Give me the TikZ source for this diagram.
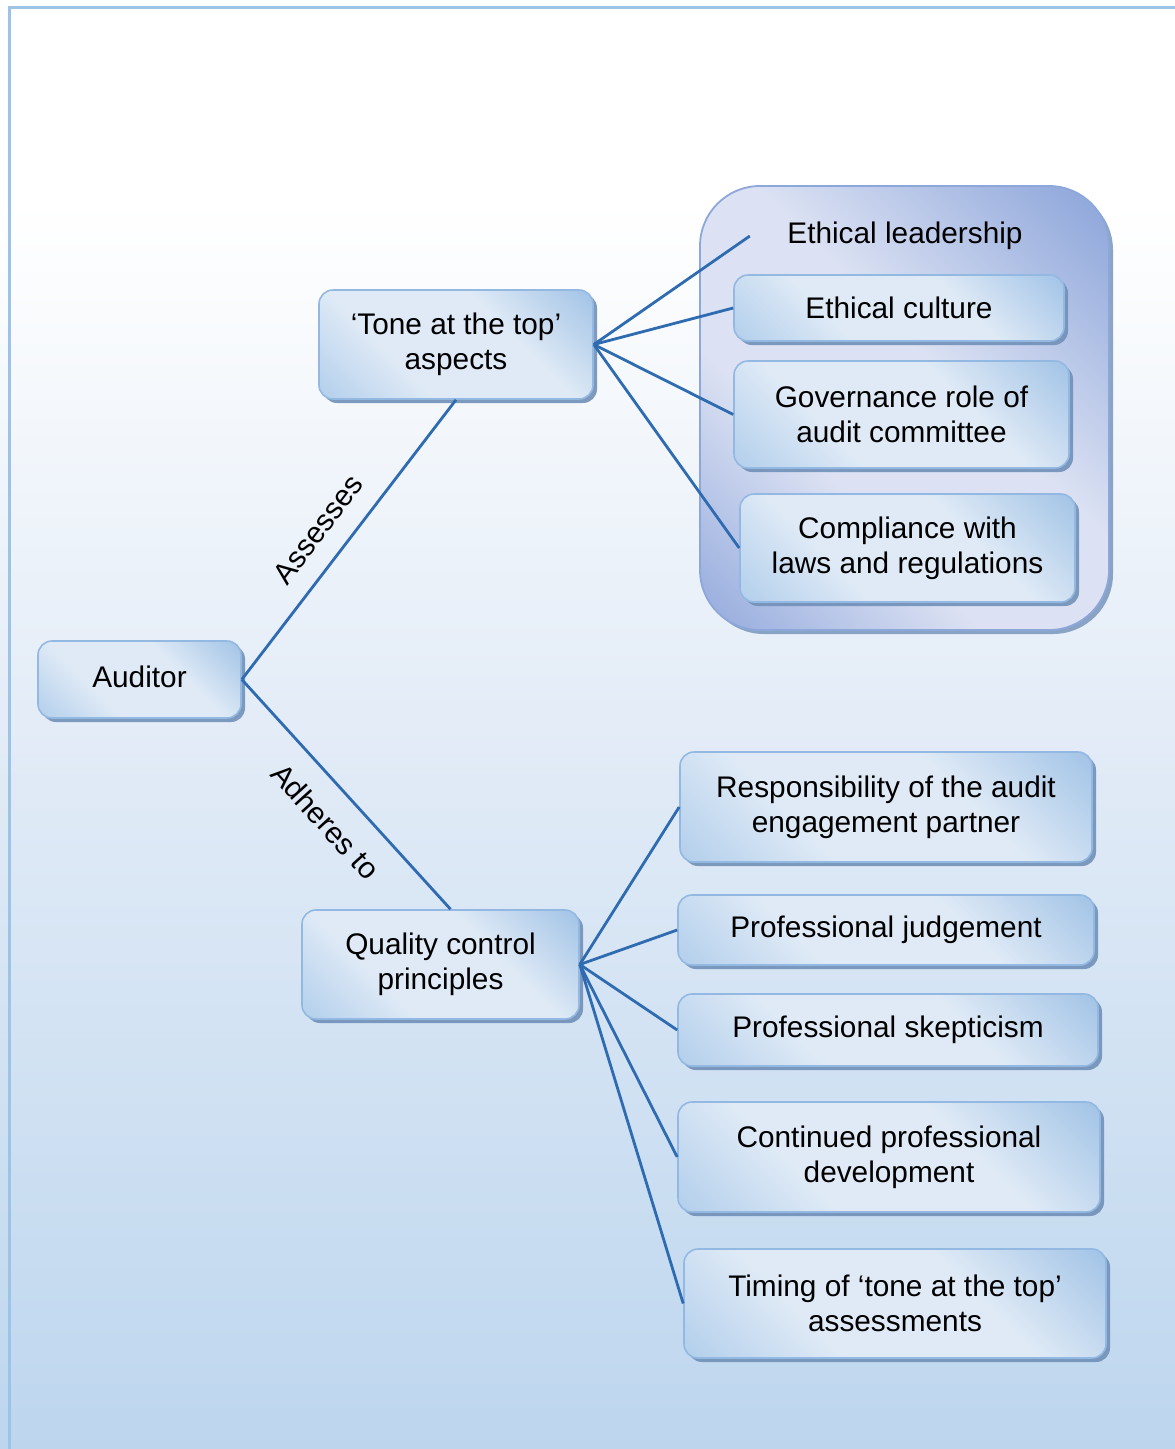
\documentclass[tikz,border=0pt]{standalone}
\usepackage{fontspec}
\setmainfont{Liberation Sans}
\usetikzlibrary{shadows}

% palette
\definecolor{bgTop}{HTML}{FFFFFF}
\definecolor{bgMid}{HTML}{E3ECF7}
\definecolor{bgBot}{HTML}{BDD6EE}
\definecolor{frameCol}{HTML}{9DC3E6}
\definecolor{boxEdgeA}{HTML}{B3CFEC}
\definecolor{boxEdgeB}{HTML}{A0C2E6}
\definecolor{boxMid}{HTML}{DFEAF6}
\definecolor{boxLine}{HTML}{93B9E2}
\definecolor{shadowCol}{HTML}{7190B8}
\definecolor{conEdgeA}{HTML}{98ADDE}
\definecolor{conEdgeB}{HTML}{93AADC}
\definecolor{conMid}{HTML}{DCE2F3}
\definecolor{conLine}{HTML}{8EA7DA}
\definecolor{linkCol}{HTML}{2E6BB0}

% axis shadings (a path shaded at 45 degrees spans about 15bp..85bp of the axis)
\pgfdeclareverticalshading{bgshade}{100bp}{color(0bp)=(bgBot); color(25bp)=(bgBot); color(50bp)=(bgMid); color(68bp)=(bgTop); color(100bp)=(bgTop)}
\pgfdeclarehorizontalshading{boxshade}{100bp}{color(0bp)=(boxEdgeA); color(15bp)=(boxEdgeA); color(36bp)=(boxMid); color(62bp)=(boxMid); color(86bp)=(boxEdgeB); color(100bp)=(boxEdgeB)}
\pgfdeclarehorizontalshading{conshade}{100bp}{color(0bp)=(conEdgeA); color(16bp)=(conEdgeA); color(38bp)=(conMid); color(56bp)=(conMid); color(82bp)=(conEdgeB); color(100bp)=(conEdgeB)}

\newcommand{\diagfont}{\fontsize{29.8}{35}\selectfont}

\tikzset{
  box/.style={rounded corners=14pt, draw=boxLine, line width=1.6pt,
    shading=boxshade, shading angle=45,
    drop shadow={shadow xshift=4pt, shadow yshift=-4pt, fill=shadowCol, opacity=0.9},
    align=center, inner sep=0pt, font=\diagfont},
  groupbox/.style={rounded corners=60pt, draw=conLine, line width=1.8pt,
    shading=conshade, shading angle=45,
    drop shadow={shadow xshift=4pt, shadow yshift=-4pt, fill=shadowCol, opacity=0.8},
    inner sep=0pt},
  link/.style={draw=linkCol, line width=2.8pt},
  edgelabel/.style={font=\diagfont, inner sep=2pt, sloped}
}

\begin{document}
\begin{tikzpicture}[x=1pt, y=-1pt]
  % canvas and background
  \useasboundingbox (0,0) rectangle (1175,1449);
  \clip (0,0) rectangle (1175,1449);
  \shade[shading=bgshade] (0,0) rectangle (1175,1449);
  \draw[frameCol, line width=3pt] (9,1470) -- (9,7) -- (1195,7);

  % grouping panel for the tone-at-the-top aspects
  \node[groupbox, minimum width=409pt, minimum height=444pt] (grp) at (904.5,408) {};

  % main nodes
  \node[box, minimum width=203pt, minimum height=77pt] (aud) at (139.5,679.5) {\raisebox{5pt}{Auditor}};
  \node[box, minimum width=274pt, minimum height=109pt] (tone) at (456,344.5) {‘Tone at the top’\\aspects};
  \node[box, minimum width=277pt, minimum height=109pt] (qc) at (440.5,964.5) {Quality control\\principles};

  % tone-at-the-top aspects
  \node[font=\diagfont, minimum width=310pt, inner sep=0pt] (lead) at (905,236) {Ethical leadership};
  \node[box, minimum width=330pt, minimum height=66pt] (cult) at (899,308) {Ethical culture};
  \node[box, minimum width=335pt, minimum height=107pt] (gov) at (901.5,414.5) {Governance role of\\audit committee};
  \node[box, minimum width=335pt, minimum height=108pt] (comp) at (907.5,548) {Compliance with\\laws and regulations};

  % quality control principles
  \node[box, minimum width=412pt, minimum height=110pt] (resp) at (886,807) {Responsibility of the audit\\engagement partner};
  \node[box, minimum width=416pt, minimum height=70pt] (judg) at (886,930) {Professional judgement};
  \node[box, minimum width=420pt, minimum height=72pt] (skep) at (888,1030) {Professional skepticism};
  \node[box, minimum width=422pt, minimum height=110pt] (cpd) at (889,1157) {Continued professional\\development};
  \node[box, minimum width=422pt, minimum height=109pt] (timing) at (895,1303.5) {Timing of ‘tone at the top’\\assessments};

  % connectors from the auditor
  \draw[link] (aud.east) -- node[edgelabel, above=17pt, pos=0.47] {Assesses} (tone.south);
  \draw[link] (aud.east) -- node[edgelabel, below=19pt, pos=0.52] {Adheres to} ([xshift=10pt]qc.north);

  % fan-out connectors
  \foreach \t in {lead, cult, gov, comp}
    \draw[link] (tone.east) -- (\t.west);
  \foreach \t in {resp, judg, skep, cpd, timing}
    \draw[link] (qc.east) -- (\t.west);
\end{tikzpicture}
\end{document}
